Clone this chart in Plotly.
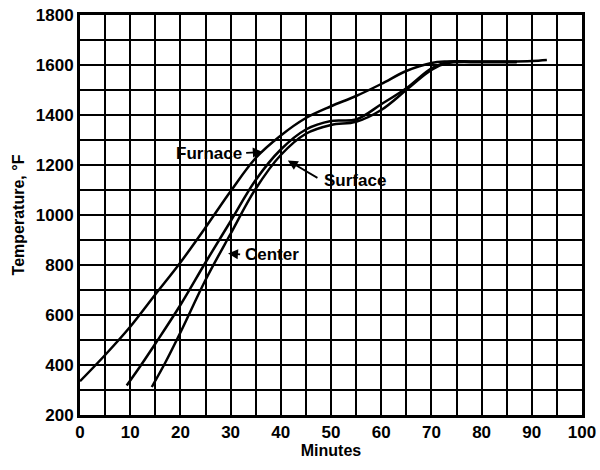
import plotly.graph_objects as go

# Data
furnace_x = [0, 5, 10, 15, 20, 25, 30, 35, 40, 45, 50, 55, 60, 65, 70, 73, 80, 85, 90, 93]
furnace_y = [335, 440, 553, 682, 810, 950, 1095, 1228, 1318, 1388, 1435, 1476, 1524, 1576, 1608, 1614, 1614, 1614, 1616, 1620]

surface_x = [9.3, 12, 15, 20, 25, 30, 35, 40, 45, 50, 55, 60, 65, 70, 73, 80, 87]
surface_y = [318, 395, 485, 640, 810, 975, 1140, 1262, 1342, 1376, 1382, 1443, 1507, 1587, 1610, 1613, 1613]

center_x = [14.3, 17, 20, 25, 30, 35, 40, 45, 50, 55, 60, 65, 70, 73, 80, 87]
center_y = [312, 410, 530, 740, 925, 1105, 1240, 1325, 1360, 1373, 1420, 1500, 1580, 1607, 1611, 1611]

x_ticks = [0, 10, 20, 30, 40, 50, 60, 70, 80, 90, 100]
y_ticks = [200, 400, 600, 800, 1000, 1200, 1400, 1600, 1800]

FONT = "Liberation Sans"

fig = go.Figure()
for xs, ys in [(furnace_x, furnace_y), (surface_x, surface_y), (center_x, center_y)]:
    fig.add_trace(go.Scatter(x=xs, y=ys, mode="lines",
                             line=dict(color="black", width=2.5, shape="spline", smoothing=1.0),
                             showlegend=False, hoverinfo="skip"))

ann_font = dict(family=FONT, size=17, color="black", weight="bold")
arrow = dict(text="", showarrow=True, arrowhead=2, arrowsize=1.1, arrowwidth=1.8,
             arrowcolor="black", axref="x", ayref="y")
fig.add_annotation(x=36.4, y=1252, ax=32.8, ay=1248, **arrow)
fig.add_annotation(x=32.6, y=1245, text="Furnace", showarrow=False, xanchor="right", font=ann_font)

fig.add_annotation(x=41.4, y=1218, ax=47.6, ay=1145, **arrow)
fig.add_annotation(x=48.2, y=1140, text="Surface", showarrow=False, xanchor="left", font=ann_font)

fig.add_annotation(x=29.5, y=846, ax=32.2, ay=842, **arrow)
fig.add_annotation(x=32.4, y=842, text="Center", showarrow=False, xanchor="left", font=ann_font)

axis_common = dict(showline=True, linecolor="black", linewidth=3, mirror=True,
                   showgrid=True, gridcolor="black", gridwidth=2,
                   ticks="", zeroline=False, automargin=False,
                   tickfont=dict(family=FONT, size=17, color="black", weight="bold"))

fig.update_xaxes(range=[0, 100], tickvals=x_ticks, ticktext=[str(v) for v in x_ticks],
                 minor=dict(dtick=5, showgrid=True, gridcolor="black", gridwidth=2),
                 title=dict(text="Minutes", font=dict(family=FONT, size=16, color="black", weight="bold"), standoff=2),
                 **axis_common)
fig.update_yaxes(range=[200, 1800], tickvals=y_ticks, ticktext=[str(v) for v in y_ticks],
                 minor=dict(dtick=100, showgrid=True, gridcolor="black", gridwidth=2),
                 title=dict(text="Temperature, °F", font=dict(family=FONT, size=16, color="black", weight="bold"), standoff=8),
                 **axis_common)

fig.update_layout(width=600, height=470, margin=dict(l=80, r=18, t=15, b=55),
                  plot_bgcolor="white", paper_bgcolor="white",
                  font=dict(family=FONT, color="black"))

fig.write_html("out.html", config={"displayModeBar": False},
               post_script="document.body.style.margin='0';")
